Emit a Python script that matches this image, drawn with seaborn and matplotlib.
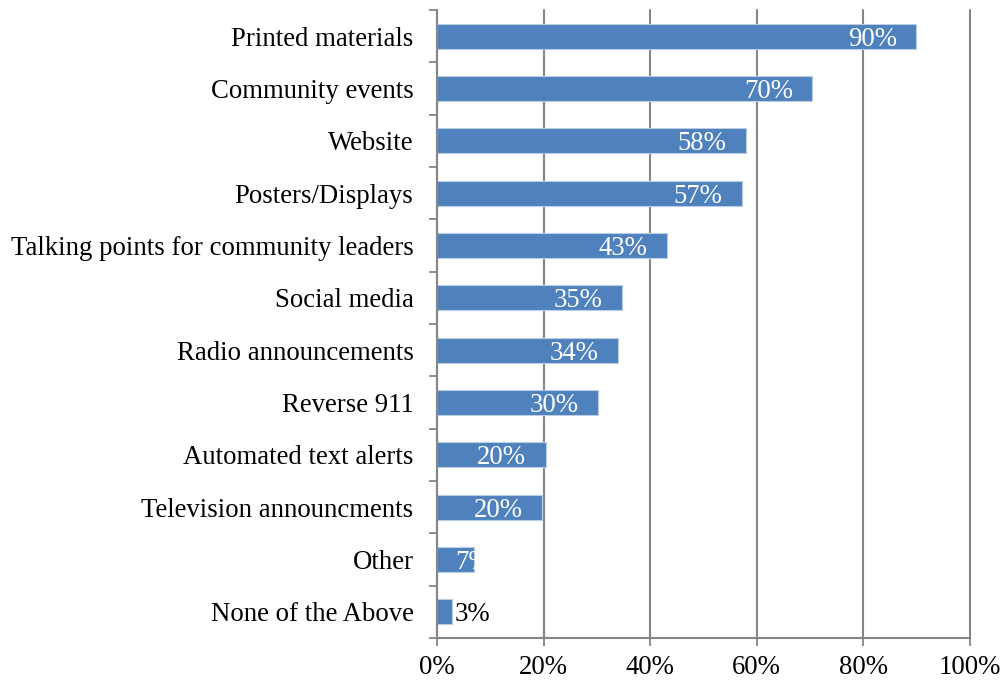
import matplotlib
matplotlib.use("Agg")
import matplotlib.pyplot as plt
import seaborn as sns
import pandas as pd
import numpy as np

# Daten
categories = [
    "Printed materials",
    "Community events",
    "Website",
    "Posters/Displays",
    "Talking points for community leaders",
    "Social media",
    "Radio announcements",
    "Reverse 911",
    "Automated text alerts",
    "Television announcments",
    "Other",
    "None of the Above",
]
values = [89.9, 70.4, 58.0, 57.2, 43.2, 34.7, 34.0, 30.2, 20.4, 19.7, 6.9, 2.8]
x_ticks = [0, 20, 40, 60, 80, 100]

df = pd.DataFrame({"category": categories, "value": values})

sns.set_style("white")
plt.rcParams["font.family"] = ["Liberation Serif", "DejaVu Serif"]

grid_col = "#868686"
bar_col = "#4F81BD"
fs = 19.3

fig = plt.figure(figsize=(10.03, 6.83), dpi=100)
ax = fig.add_axes([0.4357, 0.0659, 0.9671 - 0.4357, 0.9854 - 0.0659])

sns.barplot(data=df, x="value", y="category", orient="h", color=bar_col,
            saturation=1, width=0.48, edgecolor="#B9CDE5", linewidth=0.8, ax=ax)

ax.set_xlim(0, 100)
ax.set_xticks(x_ticks)
ax.set_xticklabels([f"{t}%" for t in x_ticks], fontsize=fs, color="black")
ax.set_yticklabels(categories, fontsize=fs, color="black")
ax.set_xlabel("")
ax.set_ylabel("")
ax.tick_params(axis="y", which="major", length=0, pad=17)
ax.tick_params(axis="x", bottom=True, length=6, width=1.3, color=grid_col, pad=6)

# Kategorie-Grenzen als Ticks links
ax.set_yticks(np.arange(-0.5, len(categories), 1), minor=True)
ax.tick_params(axis="y", which="minor", left=True, length=6, width=1.3,
               color=grid_col, direction="out")

ax.grid(axis="x", color=grid_col, linewidth=1.5)
for gl in ax.get_xgridlines():
    gl.set_clip_on(False)
ax.set_axisbelow(True)
for s in ["top", "right"]:
    ax.spines[s].set_visible(False)
for s in ["left", "bottom"]:
    ax.spines[s].set_color(grid_col)
    ax.spines[s].set_linewidth(1.5)

# Beschriftungen
for i, v in enumerate(values):
    lab = f"{round(v)}%"
    if v < 5:
        ax.annotate(lab, (v, i), xytext=(2, 0), textcoords="offset points",
                    ha="left", va="center_baseline", fontsize=fs, color="black")
    elif v < 10:
        ax.annotate(lab, (0, i), xytext=(13, 0), textcoords="offset points",
                    ha="left", va="center_baseline", fontsize=fs, color="white")
    else:
        ax.annotate(lab, (v, i), xytext=(-14, 0), textcoords="offset points",
                    ha="right", va="center_baseline", fontsize=fs, color="white")

fig.savefig("out.png", dpi=100)
